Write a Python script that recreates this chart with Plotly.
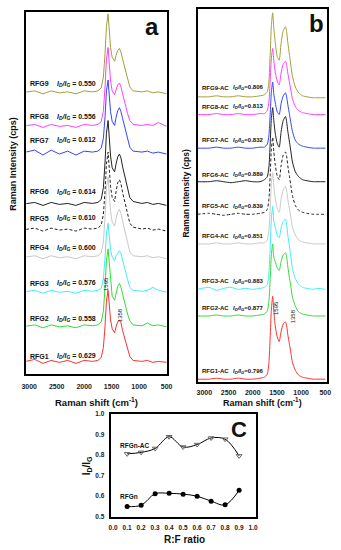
import plotly.graph_objects as go

W, H = 341, 550

# ---------------- data ----------------
# Raman shift grids (cm-1) at which the spectra were read
shift_a = [3150, 2900, 2750, 2600, 2450, 2300, 2150, 2000, 1850, 1750, 1690, 1650, 1620, 1595,
           1565, 1545, 1520, 1490, 1446, 1420, 1390, 1358, 1330, 1300, 1270, 1240, 1210, 1170,
           1110, 950, 850, 750, 650, 500]
shift_b = [3150, 2900, 2750, 2600, 2450, 2300, 2150, 2000, 1850, 1760, 1700, 1665, 1640, 1615,
           1588, 1565, 1535, 1495, 1453, 1415, 1370, 1322, 1300, 1275, 1240, 1210, 1180, 1120,
           1050, 970, 880, 750, 650, 500]

# panel a (as-prepared RF gels), stacked intensities (a.u.)
rfg9 = [285,287,284,287,285,286,284,287,286,287,290,301,325,352,365,350,331,321,317,323,328,330,326,319,312,306,299,291,287,286,287,285,286,284]
rfg8 = [251,253,250,253,251,252,250,253,252,253,256,267,291,319,331,317,297,287,283,288,293,295,291,284,277,272,264,257,253,252,253,252,255,251]
rfg7 = [224,227,222,227,223,226,222,226,225,226,229,239,261,287,298,285,266,256,252,260,267,270,266,259,252,246,238,230,226,225,226,224,225,223]
rfg6 = [172,174,171,174,172,173,171,174,173,174,177,189,215,244,257,242,221,209,205,213,220,223,219,210,203,196,187,179,175,173,174,172,173,171]
rfg5 = [146,148,145,148,146,147,145,148,147,148,151,162,186,213,225,211,190,179,175,185,194,197,193,184,177,170,161,153,149,147,148,146,147,145]
rfg4 = [118,120,117,120,118,119,117,120,119,120,123,134,159,188,200,185,165,154,150,158,164,167,163,155,147,141,133,124,120,119,120,118,119,117]
rfg3 = [83,85,82,85,83,84,82,85,84,85,87,97,118,143,153,140,126,119,115,120,123,125,122,115,108,103,96,88,85,84,85,88,85,83]
rfg2 = [48,50,47,50,48,49,47,50,49,50,53,64,88,115,127,113,91,79,75,83,89,92,88,81,74,69,61,54,50,49,52,49,50,48]
rfg1 = [12,15,11,14,12,14,11,14,13,14,17,27,49,74,85,72,55,46,42,48,53,55,52,44,38,32,25,18,14,13,14,12,13,12]

# panel b (activated carbons)
rfg9_ac = [289,289,290,289,289,290,289,289,290,291,294,305,331,361,374,359,344,330,326,343,356,360,355,344,331,320,310,299,293,290,289,288,288,288]
rfg8_ac = [271,271,272,271,271,272,271,271,272,272,275,284,305,328,338,326,314,305,301,313,322,325,321,313,303,295,287,279,275,273,272,271,271,271]
rfg7_ac = [237,237,238,237,237,238,237,237,238,238,241,250,271,294,304,292,283,274,271,282,290,293,289,281,271,262,254,245,241,239,238,237,237,237]
rfg6_ac = [203,203,204,203,202,203,204,203,203,205,208,218,241,267,278,265,252,242,238,253,265,269,264,254,243,233,223,213,208,205,204,203,203,203]
rfg5_ac = [170,171,170,169,170,171,170,170,171,172,175,186,209,236,248,234,220,209,205,219,230,233,229,219,208,198,189,179,174,172,171,170,170,170]
rfg4_ac = [140,140,141,140,140,141,140,140,141,141,144,154,176,201,212,199,186,176,172,185,195,198,194,185,175,166,157,149,144,142,141,140,140,140]
rfg3_ac = [94,96,93,95,96,94,95,94,95,96,99,111,136,165,178,163,157,149,146,156,163,165,160,149,137,126,115,105,99,96,95,94,95,94]
rfg2_ac = [67,67,68,67,67,68,67,67,68,69,72,82,104,129,140,127,122,116,113,122,129,131,127,117,105,96,86,77,71,69,68,67,67,67]
rfg1_ac = [3,3,4,3,3,4,3,3,4,5,8,20,45,74,87,72,57,46,41,51,59,61,57,48,38,29,20,12,7,5,4,3,3,3]

names_a = ["RFG9", "RFG8", "RFG7", "RFG6", "RFG5", "RFG4", "RFG3", "RFG2", "RFG1"]
ratios_a = ["0.550", "0.556", "0.612", "0.614", "0.610", "0.600", "0.576", "0.558", "0.629"]
names_b = ["RFG9-AC", "RFG8-AC", "RFG7-AC", "RFG6-AC", "RFG5-AC", "RFG4-AC", "RFG3-AC", "RFG2-AC", "RFG1-AC"]
ratios_b = ["0.806", "0.813", "0.832", "0.889", "0.839", "0.851", "0.883", "0.877", "0.796"]

# panel c
rf_ratio = [0.1, 0.2, 0.3, 0.4, 0.5, 0.6, 0.7, 0.8, 0.9]
idig_rfgn = [0.550, 0.556, 0.612, 0.614, 0.610, 0.600, 0.576, 0.558, 0.629]
idig_rfgn_ac = [0.806, 0.813, 0.832, 0.889, 0.839, 0.851, 0.883, 0.877, 0.796]

tick_vals = [3000, 2500, 2000, 1500, 1000, 500]
tick_c_x = [0.0, 0.1, 0.2, 0.3, 0.4, 0.5, 0.6, 0.7, 0.8, 0.9, 1.0]
tick_c_y = [0.5, 0.6, 0.7, 0.8, 0.9, 1.0]

# ---------------- styles ----------------
colors = ["#a3a03a", "#ff40ff", "#3344ff", "#222222", "#222222", "#c8c8c8", "#40eef8", "#33dd33", "#ff3030"]
dashes = ["solid", "solid", "solid", "solid", "3px,2px", "solid", "solid", "solid", "solid"]
FONT = "Arial, Liberation Sans, sans-serif"

def px(x):
    return x / W

def py(y):
    return 1 - y / H

fig = go.Figure()

series_a = [rfg9, rfg8, rfg7, rfg6, rfg5, rfg4, rfg3, rfg2, rfg1]
series_b = [rfg9_ac, rfg8_ac, rfg7_ac, rfg6_ac, rfg5_ac, rfg4_ac, rfg3_ac, rfg2_ac, rfg1_ac]

for i in range(8, -1, -1):
    fig.add_trace(go.Scatter(x=shift_a, y=series_a[i], mode="lines", xaxis="x", yaxis="y",
                             line=dict(color=colors[i], width=1, dash=dashes[i]),
                             showlegend=False, hoverinfo="skip"))
for i in range(8, -1, -1):
    fig.add_trace(go.Scatter(x=shift_b, y=series_b[i], mode="lines", xaxis="x2", yaxis="y2",
                             line=dict(color=colors[i], width=1, dash=dashes[i], shape="spline", smoothing=0.6),
                             showlegend=False, hoverinfo="skip"))

fig.add_trace(go.Scatter(x=rf_ratio, y=idig_rfgn_ac, mode="lines+markers", xaxis="x3", yaxis="y3",
                         line=dict(color="black", width=1, shape="spline", smoothing=1.0),
                         marker=dict(symbol="triangle-down-open", size=5, color="#666666", line=dict(width=1)),
                         showlegend=False))
fig.add_trace(go.Scatter(x=rf_ratio, y=idig_rfgn, mode="lines+markers", xaxis="x3", yaxis="y3",
                         line=dict(color="black", width=1, shape="spline", smoothing=1.0),
                         marker=dict(symbol="circle", size=5, color="black"),
                         showlegend=False))

frame = dict(showline=True, linecolor="black", linewidth=1.5, mirror=True, showgrid=False,
             zeroline=False)
tickfont = dict(family=FONT, size=7, color="#222222")

def btext(vals, fmt):
    return ["<b>" + (fmt % v) + "</b>" for v in vals]

fig.update_layout(
    width=W, height=H, autosize=False,
    margin=dict(l=0, r=0, t=0, b=0),
    paper_bgcolor="white", plot_bgcolor="white",
    xaxis=dict(domain=[px(22), px(167)], range=[3053, 500], anchor="y",
               tickvals=tick_vals, ticktext=btext(tick_vals, "%d"), ticks="",
               tickfont=tickfont, ticklabelstandoff=5, **frame),
    yaxis=dict(domain=[py(375), py(8)], range=[0, 367], anchor="x", showticklabels=False,
               ticks="", **frame),
    xaxis2=dict(domain=[px(199), px(333)], range=[3140, 460], anchor="y2",
                tickvals=tick_vals, ticktext=btext(tick_vals, "%d"), ticks="",
                tickfont=tickfont, ticklabelstandoff=3, **frame),
    yaxis2=dict(domain=[py(383), py(5)], range=[0, 378], anchor="x2", showticklabels=False,
                ticks="", **frame),
    xaxis3=dict(domain=[px(110), px(259)], range=[-0.012, 1.018], anchor="y3",
                tickvals=tick_c_x, ticktext=btext(tick_c_x, "%.1f"), ticks="",
                tickfont=dict(family=FONT, size=6.5, color="#222222"),
                ticklabelstandoff=3, **frame),
    yaxis3=dict(domain=[py(520), py(415)], range=[0.497, 1.001], anchor="x3",
                tickvals=tick_c_y, ticktext=btext(tick_c_y, "%.1f"), ticks="",
                tickfont=dict(family=FONT, size=6.5, color="#222222"),
                ticklabelstandoff=4, **frame),
)

ann = []

def add_text(x, y, text, size, xanchor="center", yanchor="middle", angle=0, color="#111111"):
    ann.append(dict(x=px(x), y=py(y), xref="paper", yref="paper", text=text, showarrow=False,
                    xanchor=xanchor, yanchor=yanchor, textangle=angle,
                    font=dict(family=FONT, size=size, color=color)))

ya = [81, 114, 138, 190, 217, 247, 283, 319, 357]
for n, r, y in zip(names_a, ratios_a, ya):
    add_text(24, y, "<b>%s</b>" % n, 7, xanchor="left")
    add_text(52, y, "<b><i>I</i><sub><i>D</i></sub><i>/I</i><sub><i>G</i></sub> = %s</b>" % r, 7, xanchor="left")

yb = [85, 104, 138, 173, 205, 235, 281, 308, 372]
for n, r, y in zip(names_b, ratios_b, yb):
    add_text(201, y, "<b>%s</b>" % n, 6, xanchor="left")
    add_text(234, y, "<b><i>I</i><sub><i>D</i></sub><i>/I</i><sub><i>G</i></sub>=%s</b>" % r, 6, xanchor="left")

# panel letters
add_text(152, 23, "<b>a</b>", 24)
add_text(322, 20, "<b>b</b>", 24)
add_text(242, 431, "<b>C</b>", 22)

# peak labels
add_text(105, 284, "1595", 6, angle=-90)
add_text(119, 315, "1358", 6, angle=-90)
add_text(280, 308, "1595", 6, angle=-90)
add_text(298, 316, "1358", 6, angle=-90)

# axis titles
add_text(8, 162, "<b>Raman Intensity (cps)</b>", 9, angle=-90)
add_text(187, 192, "<b>Raman Intensity (cps)</b>", 8.5, angle=-90)
add_text(95, 403, "<b>Raman shift (cm<sup>-1</sup>)</b>", 9.5)
add_text(266, 403, "<b>Raman shift (cm<sup>-1</sup>)</b>", 9)
add_text(185, 542, "<b>R:F ratio</b>", 10)
add_text(85, 468, "<b>I<sub>D</sub>/I<sub>G</sub></b>", 10, angle=-90)

# panel c series labels
add_text(117, 447, "<b>RFGn-AC</b>", 6.5, xanchor="left")
add_text(117, 499, "<b>RFGn</b>", 6.5, xanchor="left")

fig.update_layout(annotations=ann)

fig.write_html("out.html", config={"displayModeBar": False},
               post_script="document.body.style.margin='0';document.body.style.padding='0';document.body.style.overflow='hidden';")
